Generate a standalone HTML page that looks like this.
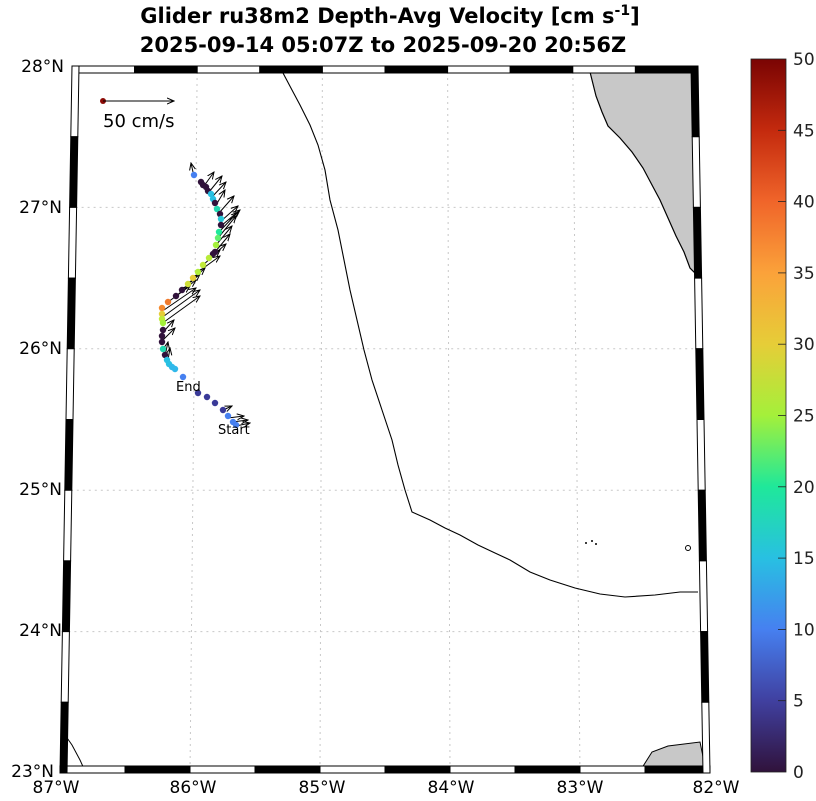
<!DOCTYPE html>
<html><head><meta charset="utf-8"><style>
body{margin:0;background:#fff;width:816px;height:796px;overflow:hidden}
svg text{font-family:"DejaVu Sans","Liberation Sans",sans-serif}
</style></head><body>
<svg id="s" width="816" height="796" xmlns="http://www.w3.org/2000/svg">
<defs>
<linearGradient id="cb" x1="0" y1="1" x2="0" y2="0">
<stop offset="0" stop-color="#30123b"/><stop offset="0.1" stop-color="#4040a0"/>
<stop offset="0.2" stop-color="#4680f0"/><stop offset="0.3" stop-color="#28c0e2"/>
<stop offset="0.4" stop-color="#1fe89a"/><stop offset="0.5" stop-color="#a4f03a"/>
<stop offset="0.6" stop-color="#e6cd38"/><stop offset="0.7" stop-color="#fba23a"/>
<stop offset="0.8" stop-color="#f0652a"/><stop offset="0.9" stop-color="#c42a0e"/>
<stop offset="1" stop-color="#7a0403"/>
</linearGradient>
<marker id="ah" markerWidth="8" markerHeight="8" refX="7" refY="4" orient="auto" markerUnits="userSpaceOnUse"><path d="M0,1 L7,4 L0,7" fill="none" stroke="#000" stroke-width="1"/></marker>
</defs>
<text x="390" y="23" font-size="21" font-weight="bold" text-anchor="middle">Glider ru38m2 Depth-Avg Velocity [cm s<tspan dy="-8" font-size="14">-1</tspan><tspan dy="8">]</tspan></text>
<text x="383" y="52" font-size="21" font-weight="bold" text-anchor="middle">2025-09-14 05:07Z to 2025-09-20 20:56Z</text>
<g id="grid" stroke="#c8c8c8" stroke-width="1" stroke-dasharray="2,4"></g>
<polygon points="590,72 697,68 697,275 690,268 684,252 676,236 668,218 660,200 652,185 643,168 632,152 620,138 608,126 602,112 596,96" fill="#c8c8c8" stroke="#000" stroke-width="1.2"/>
<polygon points="640,771 652,752 668,746 700,742 706,771" fill="#c8c8c8" stroke="#000" stroke-width="1"/>
<path d="M65,735 L72,745 L80,760 L85,771" fill="none" stroke="#000" stroke-width="1"/>
<path d="M283,73 L292,90 L300,105 L310,125 L318,145 L325,170 L330,200 L338,230 L344,260 L350,290 L357,320 L364,350 L372,380 L382,410 L392,440 L398,465 L405,490 L412,512 L430,520 L445,528 L460,535 L478,545 L495,553 L510,560 L530,572 L550,580 L575,588 L600,594 L625,597 L655,595 L680,592 L698,592" fill="none" stroke="#000" stroke-width="1.1"/>
<g fill="#000"><circle cx="586" cy="543" r="1"/><circle cx="592" cy="541" r="1"/><circle cx="596" cy="544" r="1"/><circle cx="688" cy="548" r="2.5" fill="none" stroke="#000"/></g>
<g id="arrows" stroke="#000" stroke-width="1" fill="none" marker-end="url(#ah)"></g>
<g id="pts"></g>
<text x="176" y="391" font-size="13">End</text>
<text x="218" y="434" font-size="13">Start</text>
<circle cx="103" cy="101" r="3" fill="#8b0a05"/>
<line x1="103" y1="101" x2="174" y2="101" stroke="#000" stroke-width="1" marker-end="url(#ah)"/>
<text x="103" y="127" font-size="18">50 cm/s</text>
<g id="frame"></g>
<g font-size="17" text-anchor="end">
<text x="64" y="72">28°N</text><text x="62" y="213">27°N</text><text x="62" y="354">26°N</text>
<text x="62" y="495">25°N</text><text x="62" y="636">24°N</text><text x="54" y="777">23°N</text>
</g>
<g font-size="17" text-anchor="middle">
<text x="56" y="793">87°W</text><text x="193" y="793">86°W</text><text x="322" y="793">85°W</text>
<text x="451" y="793">84°W</text><text x="580" y="793">83°W</text><text x="716" y="793">82°W</text>
</g>
<rect x="751" y="59" width="35" height="713" fill="url(#cb)" stroke="#222" stroke-width="0.8"/>
<g font-size="17" id="cbl" fill="#222"></g>
</svg>
<script>
const NS="http://www.w3.org/2000/svg";
function el(p,t,a){const e=document.createElementNS(NS,t);for(const k in a)e.setAttribute(k,a[k]);p.appendChild(e);return e;}
const TL=[72,66],TR=[698,66],BL=[60,773],BR=[710,773];
function lerp(a,b,t){return [a[0]+(b[0]-a[0])*t,a[1]+(b[1]-a[1])*t];}
const g=document.getElementById('grid');
[27,26,25,24].forEach(la=>{const t=(28-la)/5;const a=lerp(TL,BL,t),b=lerp(TR,BR,t);el(g,'line',{x1:a[0],y1:a[1],x2:b[0],y2:b[1]});});
[1,2,3,4].forEach(i=>{const t=i/5;const a=lerp(TL,TR,t),b=lerp(BL,BR,t);el(g,'line',{x1:a[0],y1:a[1],x2:b[0],y2:b[1]});});
const f=document.getElementById('frame');const W=7;
function band(A,B,nx,ny,startBlack){for(let i=0;i<10;i++){const p=lerp(A,B,i/10),q=lerp(A,B,(i+1)/10);
const black=(i%2==0)===startBlack;
el(f,'polygon',{points:`${p[0]},${p[1]} ${q[0]},${q[1]} ${q[0]+nx*W},${q[1]+ny*W} ${p[0]+nx*W},${p[1]+ny*W}`,fill:black?'#000':'#fff',stroke:'#000','stroke-width':1});}}
band(TL,TR,0,1,false);band(BL,BR,0,-1,false);band(TL,BL,1,0,false);band(TR,BR,-1,0,true);
const P=[[194,175,'#4680f0'],[201,182,'#30123b'],[203,185,'#30123b'],[206,187,'#30123b'],[208,191,'#30123b'],[211,194,'#28c0e2'],[213,199,'#28c0e2'],[215,203,'#30123b'],[217,209,'#1fd8b0'],[220,214,'#30123b'],[221,219,'#28c8d8'],[221,225,'#30123b'],[219,232,'#1fe89a'],[218,238,'#60f070'],[216,245,'#a4f03a'],[215,252,'#30123b'],[213,254,'#30123b'],[209,258,'#b8ec38'],[203,265,'#c0ea38'],[198,272,'#b0ee3a'],[193,278,'#e6cd38'],[188,284,'#d0e038'],[182,290,'#30123b'],[176,296,'#30123b'],[168,302,'#f07a2c'],[162,308,'#f5892e'],[162,314,'#e6cd38'],[162,319,'#c0ea38'],[163,323,'#a4f03a'],[163,330,'#30123b'],[162,336,'#30123b'],[162,342,'#30123b'],[163,349,'#1fd8b0'],[165,355,'#30123b'],[167,360,'#28c0e2'],[169,364,'#28c0e2'],[172,367,'#30b8ea'],[175,369,'#30b8ea'],[183,377,'#4680f0'],[198,393,'#3a3a98'],[207,397,'#3a3a98'],[215,403,'#3a3a98'],[223,410,'#3a3a98'],[228,416,'#4680f0'],[233,422,'#4680f0'],[236,425,'#4680f0']];
const pg=document.getElementById('pts');P.forEach(p=>el(pg,'circle',{cx:p[0],cy:p[1],r:3.2,fill:p[2]}));
const ag=document.getElementById('arrows');
const A=[[193,172,191,163],[204,186,214,172],[209,192,222,176],[212,197,226,182],[216,205,225,190],[219,213,234,196],[220,222,238,206],[221,226,240,210],[219,232,238,212],[218,238,236,216],[216,245,232,226],[215,252,230,234],[210,258,226,244],[203,265,220,250],[198,272,220,256],[190,282,205,268],[182,290,200,274],[176,296,196,280],[168,302,190,286],[164,310,196,288],[164,316,200,290],[164,322,200,296],[165,330,174,320],[163,340,175,328],[165,356,168,342],[168,360,170,348],[228,418,244,416],[232,422,248,420],[236,426,250,423],[223,410,232,406]];
A.forEach(a=>el(ag,'line',{x1:a[0],y1:a[1],x2:a[2],y2:a[3]}));
const cl=document.getElementById('cbl');
for(let v=0;v<=50;v+=5){const y=772-v/50*713;const t=el(cl,'text',{x:793,y:y+6});t.textContent=v;
if(v>0&&v<50){el(document.getElementById('s'),'line',{x1:778,y1:y,x2:786,y2:y,stroke:'#222','stroke-width':0.8});}}
</script>
</body></html>
